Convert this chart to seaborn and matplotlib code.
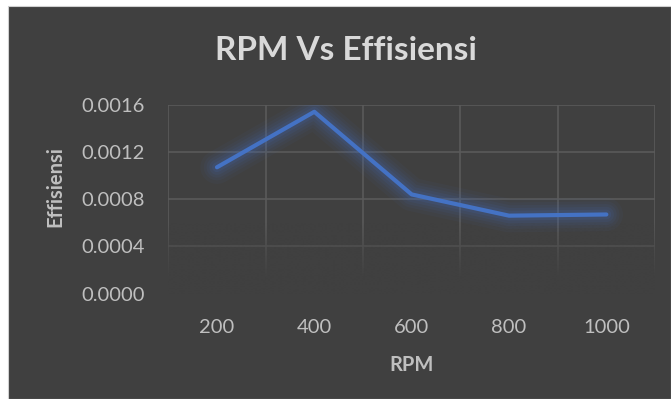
import matplotlib.pyplot as plt
import matplotlib.colors as mcolors
from matplotlib.patches import Rectangle
import numpy as np
import pandas as pd
import seaborn as sns

# Data
rpm = ["200", "400", "600", "800", "1000"]
effisiensi = [0.00107, 0.00154, 0.00084, 0.00066, 0.00067]
y_ticks = [0.0000, 0.0004, 0.0008, 0.0012, 0.0016]

BG = "#404040"
GRID = "#5a5a5a"
TEXT = "#bfbfbf"
TITLE = "#d9d9d9"
LINE = "#4472C4"

sns.set_theme(style="dark")
plt.rcParams["font.family"] = ["Lato", "DejaVu Sans"]

df = pd.DataFrame({"RPM": rpm, "Effisiensi": effisiensi})

fig = plt.figure(figsize=(6.71, 3.99), dpi=100)
fig.patch.set_facecolor("white")
# Dark chart panel (white page strip at top and left)
fig.patches.append(
    Rectangle((8 / 671, 0), 1 - 8 / 671, 393 / 399, transform=fig.transFigure,
              facecolor=BG, edgecolor="#d0d0d0", linewidth=0.8, zorder=0)
)

ax = fig.add_axes([0.2508, 0.2642, 0.7254, 0.4734])
ax.set_zorder(2)
ax.set_facecolor("none")

# Soft glow under the line
for lw, alpha in [(24, 0.05), (19, 0.06), (15, 0.07), (11, 0.09), (7, 0.12)]:
    sns.lineplot(data=df, x="RPM", y="Effisiensi", ax=ax, color=LINE,
                 linewidth=lw, alpha=alpha, solid_capstyle="round",
                 solid_joinstyle="round", zorder=2)
sns.lineplot(data=df, x="RPM", y="Effisiensi", ax=ax, color=LINE,
             linewidth=3, solid_capstyle="round", zorder=3)

# Gridlines (vertical ones on category boundaries)
ax.set_xlim(-0.5, len(rpm) - 0.5)
ax.set_ylim(0, 0.0016)
ax.set_yticks(y_ticks)
ax.set_yticklabels([f"{v:.4f}" for v in y_ticks])
ax.set_xticks(range(len(rpm)))
ax.set_xticklabels(rpm)
ax.set_xticks(np.arange(-0.5, len(rpm)), minor=True)
ax.grid(False)
ax.grid(True, axis="y", which="major", color=GRID, linewidth=1.2)
ax.grid(True, axis="x", which="minor", color=GRID, linewidth=1.2)
ax.set_axisbelow(True)

# Fade the gridlines toward the bottom
h = 200
alpha_col = np.clip((0.00062 - np.linspace(0.0016, 0, h)) / 0.00046, 0, 1)
rgba = np.zeros((h, 1, 4))
rgba[..., :3] = mcolors.to_rgb(BG)
rgba[:, 0, 3] = alpha_col
ax.imshow(rgba, extent=(-0.5, len(rpm) - 0.5, -0.00003, 0.0016), aspect="auto",
          zorder=1, interpolation="bilinear")
ax.set_xlim(-0.5, len(rpm) - 0.5)
ax.set_ylim(0, 0.0016)

for s in ax.spines.values():
    s.set_visible(False)
ax.tick_params(axis="both", which="both", length=0, colors=TEXT, labelsize=14.5)
ax.tick_params(axis="y", pad=17)
ax.tick_params(axis="x", pad=18)

ax.set_xlabel("RPM", color=TEXT, fontsize=14.5, fontweight="bold", labelpad=14)
ax.set_ylabel("Effisiensi", color=TEXT, fontsize=14.5, fontweight="bold")
ax.yaxis.set_label_coords(-0.211, 0.565)
fig.text(346 / 671, 1 - 50 / 399, "RPM Vs Effisiensi", ha="center", va="center",
         color=TITLE, fontsize=24, fontweight="bold")

fig.savefig("out.png", dpi=100, facecolor=fig.get_facecolor())
